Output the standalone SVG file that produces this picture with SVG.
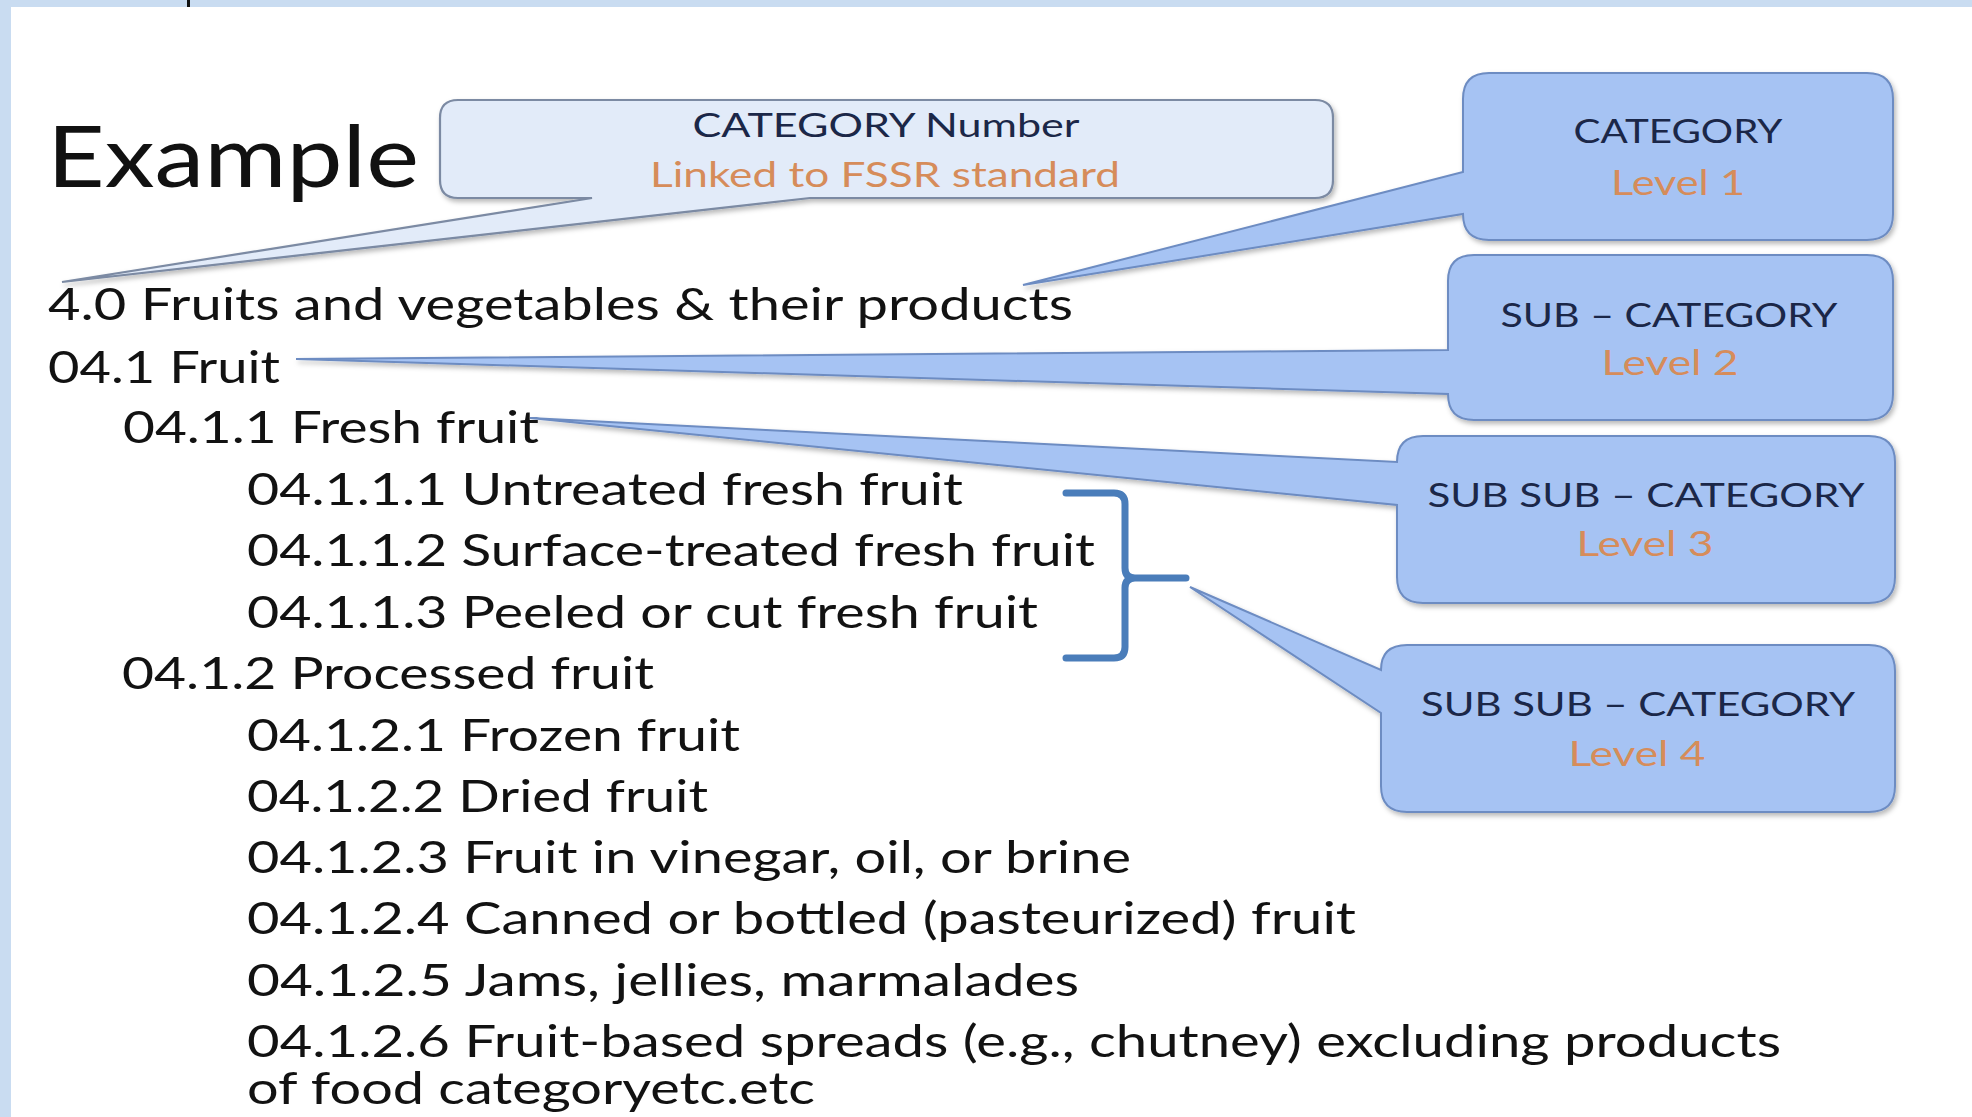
<svg xmlns="http://www.w3.org/2000/svg" width="1972" height="1117" viewBox="0 0 1972 1117">
<defs>
<filter id="sh" x="-10%" y="-10%" width="120%" height="130%">
<feDropShadow dx="2" dy="3" stdDeviation="2.5" flood-color="#000" flood-opacity="0.28"/>
</filter>
<style>
.body{font-family:Lato,"Open Sans","Liberation Sans",sans-serif;font-size:44px;fill:#121212}
.big{font-family:Lato,"Open Sans","Liberation Sans",sans-serif;font-size:86px;fill:#111}
.bt{font-family:Lato,"Open Sans","Liberation Sans",sans-serif;font-size:33px;fill:#1b2748;text-anchor:middle}
.lv{font-family:Lato,"Open Sans","Liberation Sans",sans-serif;font-size:34px;fill:#d68c5a;text-anchor:middle}
.call{fill:#a6c3f3;stroke:#6d8cc2;stroke-width:2;filter:url(#sh)}
.call0{fill:#e2ebf9;stroke:#7b8aa3;stroke-width:2.2;filter:url(#sh)}
.brace{fill:none;stroke:#4a7dba;stroke-width:7;stroke-linecap:round;stroke-linejoin:round}
</style>
</defs>
<rect x="0" y="0" width="1972" height="1117" fill="#ffffff"/>
<rect x="0" y="0" width="1972" height="7" fill="#c9dcf1"/>
<rect x="0" y="0" width="11" height="1117" fill="#c9dcf1"/>
<rect x="187" y="0" width="3" height="7" fill="#111"/>

<g id="title">
<text class="big" x="47" y="187" textLength="372" lengthAdjust="spacingAndGlyphs">Example</text>
</g>

<g id="node-category-number">
<path class="call0" d="M458,100 H1315 Q1333,100 1333,118 V180 Q1333,198 1315,198 H810 L62,282 L592,198 H458 Q440,198 440,180 V118 Q440,100 458,100 Z"/>
<text class="bt" x="886" y="137" textLength="387" lengthAdjust="spacingAndGlyphs">CATEGORY Number</text>
<text class="lv" x="885" y="187" textLength="470" lengthAdjust="spacingAndGlyphs">Linked to FSSR standard</text>
</g>

<g id="node-level1">
<path class="call" d="M1489,73 H1867 Q1893,73 1893,99 V214 Q1893,240 1867,240 H1489 Q1463,240 1463,214 L1023,285 L1463,172 V99 Q1463,73 1489,73 Z"/>
<text class="bt" x="1678" y="143" textLength="209" lengthAdjust="spacingAndGlyphs">CATEGORY</text>
<text class="lv" x="1678" y="195" textLength="134" lengthAdjust="spacingAndGlyphs">Level 1</text>
</g>

<g id="node-level2">
<path class="call" d="M1474,255 H1867 Q1893,255 1893,281 V394 Q1893,420 1867,420 H1474 Q1448,420 1448,394 L296,359 L1448,350 V281 Q1448,255 1474,255 Z"/>
<text class="bt" x="1669" y="327" textLength="337" lengthAdjust="spacingAndGlyphs">SUB – CATEGORY</text>
<text class="lv" x="1670" y="375" textLength="137" lengthAdjust="spacingAndGlyphs">Level 2</text>
</g>

<g id="node-level3">
<path class="call" d="M1423,436 H1869 Q1895,436 1895,462 V577 Q1895,603 1869,603 H1423 Q1397,603 1397,577 V505 L530,418 L1397,462 Q1397,436 1423,436 Z"/>
<text class="bt" x="1646" y="507" textLength="437" lengthAdjust="spacingAndGlyphs">SUB SUB – CATEGORY</text>
<text class="lv" x="1645" y="556" textLength="137" lengthAdjust="spacingAndGlyphs">Level 3</text>
</g>

<g id="node-level4">
<path class="call" d="M1407,645 H1869 Q1895,645 1895,671 V786 Q1895,812 1869,812 H1407 Q1381,812 1381,786 V713 L1190,587 L1381,670 Q1381,645 1407,645 Z"/>
<text class="bt" x="1638" y="716" textLength="434" lengthAdjust="spacingAndGlyphs">SUB SUB – CATEGORY</text>
<text class="lv" x="1637" y="766" textLength="137" lengthAdjust="spacingAndGlyphs">Level 4</text>
</g>

<g id="connectors">
<path class="brace" d="M1066,493 H1114 Q1125,493 1125,504 V568 Q1125,578 1135,578 H1186 M1135,578 Q1125,578 1125,588 V647 Q1125,658 1114,658 H1066"/>
</g>

<g id="list">
<text class="body" x="48" y="320" textLength="1025" lengthAdjust="spacingAndGlyphs">4.0 Fruits and vegetables &amp; their products</text>
<text class="body" x="48" y="383" textLength="232" lengthAdjust="spacingAndGlyphs">04.1 Fruit</text>
<text class="body" x="123" y="443" textLength="416" lengthAdjust="spacingAndGlyphs">04.1.1 Fresh fruit</text>
<text class="body" x="247" y="505" textLength="716" lengthAdjust="spacingAndGlyphs">04.1.1.1 Untreated fresh fruit</text>
<text class="body" x="247" y="566" textLength="848" lengthAdjust="spacingAndGlyphs">04.1.1.2 Surface-treated fresh fruit</text>
<text class="body" x="247" y="628" textLength="791" lengthAdjust="spacingAndGlyphs">04.1.1.3 Peeled or cut fresh fruit</text>
<text class="body" x="122" y="689" textLength="532" lengthAdjust="spacingAndGlyphs">04.1.2 Processed fruit</text>
<text class="body" x="247" y="751" textLength="493" lengthAdjust="spacingAndGlyphs">04.1.2.1 Frozen fruit</text>
<text class="body" x="247" y="812" textLength="461" lengthAdjust="spacingAndGlyphs">04.1.2.2 Dried fruit</text>
<text class="body" x="247" y="873" textLength="884" lengthAdjust="spacingAndGlyphs">04.1.2.3 Fruit in vinegar, oil, or brine</text>
<text class="body" x="247" y="934" textLength="1109" lengthAdjust="spacingAndGlyphs">04.1.2.4 Canned or bottled (pasteurized) fruit</text>
<text class="body" x="247" y="996" textLength="832" lengthAdjust="spacingAndGlyphs">04.1.2.5 Jams, jellies, marmalades</text>
<text class="body" x="247" y="1057" textLength="1534" lengthAdjust="spacingAndGlyphs">04.1.2.6 Fruit-based spreads (e.g., chutney) excluding products</text>
<text class="body" x="247" y="1104" textLength="568" lengthAdjust="spacingAndGlyphs">of food categoryetc.etc</text>
</g>
</svg>
